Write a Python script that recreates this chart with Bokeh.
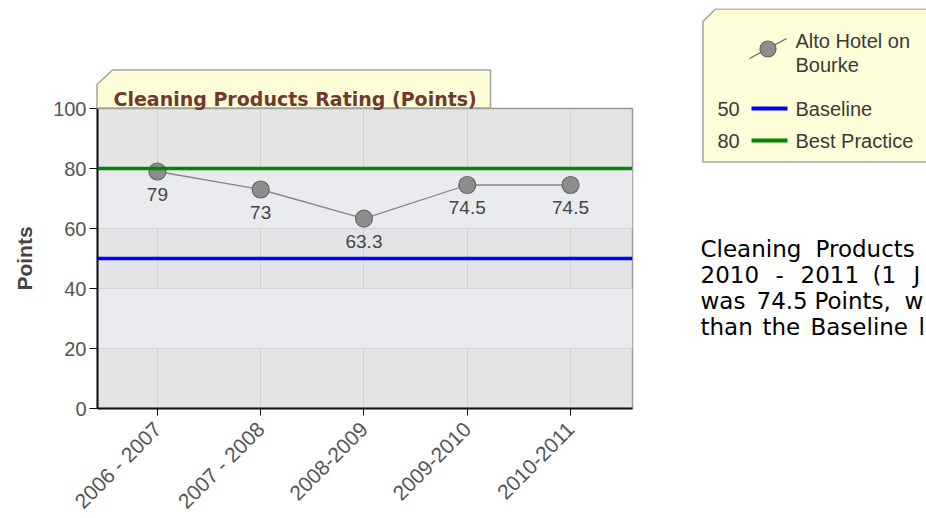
import math
from bokeh.plotting import figure
from bokeh.models import Range1d, FixedTicker, Span, ColumnDataSource
from bokeh.core.properties import value
from bokeh.embed import file_html
from bokeh.resources import INLINE

# ---------------- data ----------------
categories = ["2006 - 2007", "2007 - 2008", "2008-2009", "2009-2010", "2010-2011"]
ratings = [79, 73, 63.3, 74.5, 74.5]
rating_labels = ["79", "73", "63.3", "74.5", "74.5"]
y_ticks = [0, 20, 40, 60, 80, 100]
baseline_value = 50
best_practice_value = 80
series_name = ["Alto Hotel on", "Bourke"]
baseline_name = "Baseline"
best_practice_name = "Best Practice"
chart_title = "Cleaning Products Rating (Points)"
y_label = "Points"
summary_lines = [
    ["Cleaning", "Products"],
    ["2010", "-", "2011", "(1", "J"],
    ["was", "74.5", "Points,", "w"],
    ["than", "the", "Baseline", "l"],
]

# ---------------- styles ----------------
ARIAL = "Liberation Sans"
VERDANA = "DejaVu Sans"
NOTE_BG = "#fefed8"
NOTE_BORDER = "#a3a3a3"

xs = list(range(len(categories)))
src = ColumnDataSource(dict(x=xs, y=ratings, lab=rating_labels))

p = figure(frame_width=535, frame_height=300,
           min_border_left=89, min_border_right=294,
           min_border_top=100, min_border_bottom=110,
           x_range=Range1d(-0.58, 4.6), y_range=Range1d(0, 100),
           output_backend="svg", toolbar_location=None)
p.styles = {"position": "absolute", "left": "8px", "top": "8px"}

p.background_fill_color = "#e3e4e6"
p.border_fill_color = "white"
p.outline_line_color = "#9a9a9a"
p.outline_line_width = 1.5

p.ygrid.ticker = FixedTicker(ticks=y_ticks)
p.ygrid.grid_line_color = "#d2d2d2"
p.ygrid.band_fill_color = "#e9ebee"
p.ygrid.band_fill_alpha = 1.0
p.xgrid.ticker = FixedTicker(ticks=xs)
p.xgrid.grid_line_color = "#d2d2d2"

# axes
p.yaxis.ticker = FixedTicker(ticks=y_ticks)
p.yaxis.axis_line_color = "#111111"
p.yaxis.axis_line_width = 2
p.yaxis.major_tick_line_color = "#111111"
p.yaxis.major_tick_out = 8
p.yaxis.major_tick_in = 0
p.yaxis.minor_tick_line_color = None
p.yaxis.major_label_standoff = 3
p.yaxis.major_label_text_font = ARIAL
p.yaxis.major_label_text_font_size = "20px"
p.yaxis.major_label_text_color = "#555555"
p.yaxis.axis_label = y_label
p.yaxis.axis_label_text_font = ARIAL
p.yaxis.axis_label_text_font_style = "bold"
p.yaxis.axis_label_text_font_size = "21px"
p.yaxis.axis_label_text_color = "#444444"
p.yaxis.axis_label_standoff = 14

p.xaxis.ticker = FixedTicker(ticks=xs)
p.xaxis.major_label_overrides = {i: c for i, c in enumerate(categories)}
p.xaxis.major_label_orientation = math.pi / 4
p.xaxis.axis_line_color = "#111111"
p.xaxis.axis_line_width = 2
p.xaxis.major_tick_line_color = "#111111"
p.xaxis.major_tick_out = 7
p.xaxis.major_tick_in = 0
p.xaxis.minor_tick_line_color = None
p.xaxis.major_label_standoff = 10
p.xaxis.major_label_text_font = ARIAL
p.xaxis.major_label_text_font_size = "21px"
p.xaxis.major_label_text_color = "#555555"

# reference lines
p.add_layout(Span(location=best_practice_value, dimension="width",
                  line_color="#008800", line_width=3.5))
p.add_layout(Span(location=baseline_value, dimension="width",
                  line_color="#0000ff", line_width=3.5))

# series
p.line("x", "y", source=src, line_color="#858585", line_width=1.3)
p.scatter("x", "y", source=src, size=17, fill_color="#8d8d8d",
          line_color="#676767", line_width=1.2)
p.text("x", "y", text="lab", source=src, y_offset=16,
       text_align="center", text_baseline="top",
       text_font=value(ARIAL), text_font_size="19px", text_color="#454545")

# ---------------- overlay: title tab, legend, summary (page px coords) ----
q = figure(width=918, height=510, x_range=Range1d(8, 926),
           y_range=Range1d(518, 8), x_axis_type=None, y_axis_type=None,
           min_border=0, output_backend="svg", toolbar_location=None)
q.outline_line_color = None
q.background_fill_color = None
q.border_fill_color = None
q.grid.visible = False
q.styles = {"position": "absolute", "left": "8px", "top": "8px"}

# title tab
q.patch([96.5, 112, 490, 490, 96.5], [84, 69.5, 69.5, 107.5, 107.5],
        fill_color=NOTE_BG, line_color=NOTE_BORDER, line_width=1.5)
q.text([113], [98], text=[chart_title], text_baseline="alphabetic",
       text_font=value(VERDANA), text_font_style="bold",
       text_font_size="19px", text_color="#6e3a30")

# legend box
q.patch([702.5, 715, 940, 940, 702.5], [21, 8.5, 8.5, 161.5, 161.5],
        fill_color=NOTE_BG, line_color=NOTE_BORDER, line_width=1.5)
q.segment(x0=[749], y0=[58], x1=[786], y1=[38],
          line_color="#6a6a6a", line_width=1.3)
q.scatter([767.5], [48.5], size=16, fill_color="#8d8d8d",
          line_color="#676767", line_width=1.2)
q.text([795, 795], [40, 64], text=series_name, text_baseline="middle",
       text_font=value(ARIAL), text_font_size="20px", text_color="#3a3a3a")
q.segment(x0=[751, 751], y0=[108, 140], x1=[787, 787], y1=[108, 140],
          line_color=["#0000ff", "#008800"], line_width=4)
q.text([717, 717], [108, 140],
       text=[str(baseline_value), str(best_practice_value)],
       text_baseline="middle", text_font=value(ARIAL),
       text_font_size="20px", text_color="#3a3a3a")
q.text([795, 795], [108, 140], text=[baseline_name, best_practice_name],
       text_baseline="middle", text_font=value(ARIAL),
       text_font_size="20px", text_color="#3a3a3a")

# justified summary paragraph: word start positions per line
word_x = [
    [700, 815],
    [700, 775, 800, 872, 913],
    [700, 756, 814, 904],
    [700, 762, 810, 918],
]
line_y = [248, 274, 300, 326]
wx, wy, wt = [], [], []
for words, xpos, yb in zip(summary_lines, word_x, line_y):
    for w, xx in zip(words, xpos):
        wx.append(xx)
        wy.append(yb)
        wt.append(w)
q.text(wx, wy, text=wt, text_baseline="alphabetic",
       text_font=value(VERDANA), text_font_size="23px", text_color="#000000")

open("out.html", "w").write(file_html([p, q], INLINE))
